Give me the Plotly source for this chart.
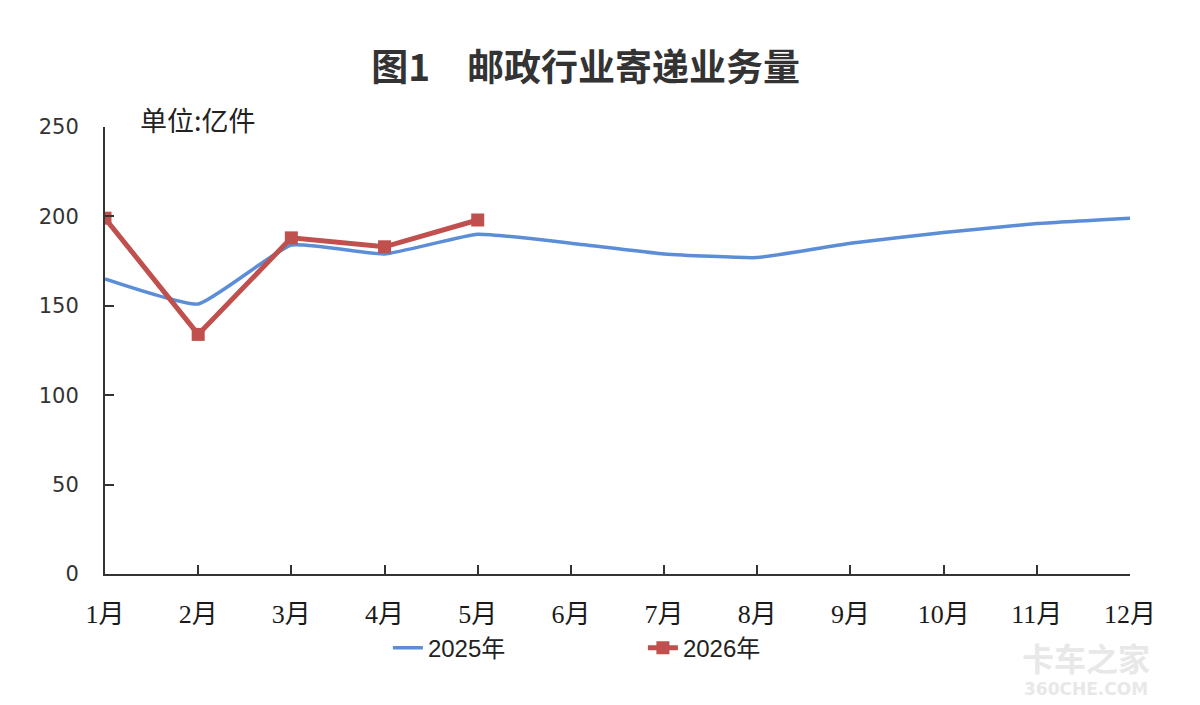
import plotly.graph_objects as go

months = ["1月", "2月", "3月", "4月", "5月", "6月", "7月", "8月", "9月", "10月", "11月", "12月"]
y2025 = [165, 151, 184, 179, 190, 185, 179, 177, 185, 191, 196, 199]
y2026 = [199, 134, 188, 183, 198]
y_ticks = [0, 50, 100, 150, 200, 250]

fig = go.Figure()
fig.add_trace(go.Scatter(
    x=months, y=y2025, name="2025年", mode="lines",
    line=dict(color="#5b8ed6", width=3.5, shape="spline", smoothing=0.4),
))
fig.add_trace(go.Scatter(
    x=months[:len(y2026)], y=y2026, name="2026年", mode="lines+markers",
    line=dict(color="#c0504d", width=5),
    marker=dict(symbol="square", size=13, color="#c0504d"),
))

fig.update_layout(
    width=1200, height=705,
    margin=dict(l=105, r=70, t=127, b=131),
    paper_bgcolor="white", plot_bgcolor="white",
    title=dict(text="<b>图1　邮政行业寄递业务量</b>", x=0.488, xanchor="center", y=0.903, yanchor="middle",
               font=dict(family="Noto Sans CJK SC", size=37, color="#333333")),
    showlegend=True,
    legend=dict(orientation="h", x=0.276, xanchor="left", y=-0.166, yanchor="middle",
                font=dict(family="Liberation Sans Narrow, Liberation Sans, Noto Sans CJK SC", size=24, color="#222222"),
                entrywidth=210, entrywidthmode="pixels", bgcolor="rgba(0,0,0,0)"),
    font=dict(family="Liberation Sans, Noto Sans CJK SC", color="#333333"),
)
fig.update_xaxes(
    type="category", range=[0, 11], showgrid=False, zeroline=False,
    showline=True, linecolor="#333333", linewidth=2,
    ticks="inside", ticklen=9, tickwidth=1.5, tickcolor="#333333",
    tickfont=dict(family="Liberation Serif, Noto Sans CJK SC", size=26, color="#1a1a1a"),
    ticklabelstandoff=16,
)
fig.update_yaxes(
    range=[0, 250], tickvals=y_ticks, showgrid=False, zeroline=False,
    showline=True, linecolor="#333333", linewidth=2,
    ticks="inside", ticklen=9, tickwidth=1.5, tickcolor="#333333",
    tickfont=dict(family="DejaVu Sans", size=21, color="#333333"),
    ticklabelstandoff=20,
)
fig.add_annotation(text="单位:亿件", xref="paper", yref="paper", x=0.032, y=1.016,
                   xanchor="left", yanchor="middle", showarrow=False,
                   font=dict(family="Noto Sans CJK SC", size=27, color="#222222"))
fig.add_annotation(text="<b>卡车之家</b>", xref="paper", yref="paper", x=0.957, y=-0.185,
                   xanchor="center", yanchor="middle", showarrow=False,
                   font=dict(family="Noto Sans CJK SC", size=32, color="#e8e8e8"))
fig.add_annotation(text="<b>360CHE.COM</b>", xref="paper", yref="paper", x=0.957, y=-0.258,
                   xanchor="center", yanchor="middle", showarrow=False,
                   font=dict(family="DejaVu Sans", size=17, color="#e8e8e8"))
fig.write_html("out.html")
